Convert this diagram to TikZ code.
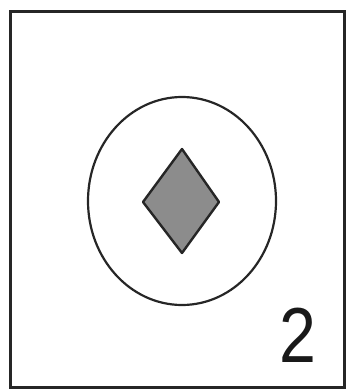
\documentclass[tikz,border=0pt]{standalone}
\usepackage{fontspec}
\setmainfont{Liberation Sans}
\usetikzlibrary{shapes.geometric}
\begin{document}
\begin{tikzpicture}[x=1pt,y=-1pt,
  framebox/.style={draw=black!85,line width=3pt},
  ring/.style={draw=black!85,line width=2.2pt},
  gem/.style={draw=black!85,line width=2.4pt,fill=black!45,line join=round},
  digit/.style={font=\fontsize{78}{80}\selectfont,inner sep=0pt,xscale=0.85,text=black!90}]
\useasboundingbox (0,0) rectangle (347,390);
\draw[framebox] (10.5,12) rectangle (344,387);
\node[ring,ellipse,minimum width=188pt,minimum height=208pt,inner sep=0pt] (ring) at (182,201) {};
\draw[gem] (182,149) coordinate (gt) -- (219,202) -- (182,253) -- (143,202) -- cycle;
\node[digit,anchor=south] (num) at (298,363) {2};
\end{tikzpicture}
\end{document}
